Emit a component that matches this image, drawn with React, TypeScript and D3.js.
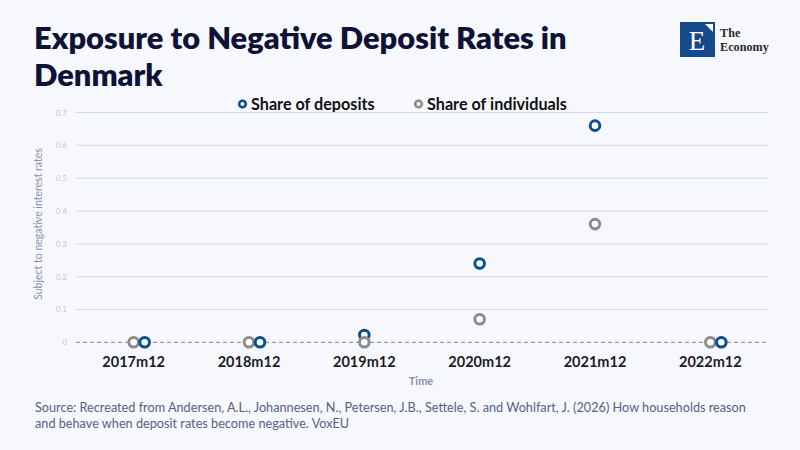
import React from "react";
import * as d3 from "d3";

const categories = ["2017m12", "2018m12", "2019m12", "2020m12", "2021m12", "2022m12"];
const shareOfDeposits = [0, 0, 0.022, 0.24, 0.66, 0];
const shareOfIndividuals = [0, 0, 0, 0.07, 0.36, 0];
const yTicks = [0, 0.1, 0.2, 0.3, 0.4, 0.5, 0.6, 0.7];
const seriesNames = ["Share of deposits", "Share of individuals"];

const W = 800;
const H = 450;
const BG = "#f7f8fd";
const BLUE = "#0c4f8e";
const GRAY = "#8c8c8c";
const FONT = "Lato, 'Noto Sans', sans-serif";

export default function App() {
  const x = d3.scaleBand<string>().domain(categories).range([76, 768]);
  const y = d3.scaleLinear().domain([0, 0.7]).range([342.3, 112.5]);
  const cx = (c: string) => (x(c) as number) + x.bandwidth() / 2;
  const DODGE = 11;

  const pts: { x: number; y: number; color: string; key: string }[] = [];
  categories.forEach((c, i) => {
    const d = shareOfDeposits[i];
    const ind = shareOfIndividuals[i];
    const dodged = d === ind;
    const dep = { x: cx(c) + (dodged ? DODGE : 0), y: y(d), color: BLUE, key: "d" + i };
    const indiv = { x: cx(c), y: y(ind), color: GRAY, key: "i" + i };
    if (dodged) pts.push(indiv, dep);
    else pts.push(dep, indiv);
  });

  return (
    <div style={{ position: "absolute", left: 0, top: 0 }}>
      <svg width={W} height={H} style={{ display: "block" }}>
        <rect width={W} height={H} fill={BG} />
        {/* Title */}
        <text x={34} y={49} fontFamily={FONT} fontWeight={800} fontSize={30.8} fill="#0e1236">
          Exposure to Negative Deposit Rates in
        </text>
        <text x={34} y={86} fontFamily={FONT} fontWeight={800} fontSize={30.8} fill="#0e1236">
          Denmark
        </text>
        {/* Logo */}
        <g>
          <rect x={680} y={22} width={35} height={35} fill="#174a8b" />
          <polygon points="705,24 713,24 713,32" fill="#ffffff" />
          <text x={697} y={50} textAnchor="middle" fontFamily="'Liberation Serif', 'DejaVu Serif', serif" fontSize={27} fill="#ffffff">
            E
          </text>
          <text x={720} y={37} fontFamily="'Liberation Serif', serif" fontWeight={700} fontSize={12.2} fill="#2a2a2a">
            The
          </text>
          <text x={720} y={51} fontFamily="'Liberation Serif', serif" fontWeight={700} fontSize={12.2} fill="#2a2a2a">
            Economy
          </text>
        </g>
        {/* Legend */}
        <g fontFamily={FONT} fontWeight={700} fontSize={16.2} fill="#111">
          <circle cx={242.5} cy={104} r={3.3} fill="#fff" stroke={BLUE} strokeWidth={2.6} />
          <text x={251} y={109.5}>{seriesNames[0]}</text>
          <circle cx={418.5} cy={104} r={3.3} fill="#fff" stroke={GRAY} strokeWidth={2.6} />
          <text x={427} y={109.5}>{seriesNames[1]}</text>
        </g>
        {/* Grid */}
        {yTicks.map((t) => (
          <g key={t}>
            {t === 0 ? (
              <line x1={76} x2={768} y1={y(t)} y2={y(t)} stroke="#7f869d" strokeWidth={1} strokeDasharray="4,3" />
            ) : (
              <line x1={76} x2={768} y1={y(t)} y2={y(t)} stroke="#d2d9e6" strokeWidth={1} />
            )}
            <text x={67} y={y(t) + 3} textAnchor="end" fontFamily={FONT} fontSize={8} fill="#c3c8d6">
              {d3.format("~g")(t)}
            </text>
          </g>
        ))}
        {/* Y axis title */}
        <text
          transform={`translate(42,224) rotate(-90)`}
          textAnchor="middle"
          fontFamily={FONT}
          fontSize={10.5}
          fill="#8b91a8"
        >
          Subject to negative interest rates
        </text>
        {/* X labels */}
        {categories.map((c) => (
          <text key={c} x={cx(c)} y={367} textAnchor="middle" fontFamily={FONT} fontWeight={700} fontSize={14.5} fill="#1c1c24">
            {c}
          </text>
        ))}
        <text x={421} y={385} textAnchor="middle" fontFamily={FONT} fontWeight={700} fontSize={11} fill="#8b91a8">
          Time
        </text>
        {/* Points */}
        {pts.map((p) => (
          <circle key={p.key} cx={p.x} cy={p.y} r={4.8} fill="#ffffff" stroke={p.color} strokeWidth={3} />
        ))}
        {/* Source */}
        <g fontFamily={FONT} fontSize={12.7} fill="#56627e">
          <text x={35} y={412}>
            Source: Recreated from Andersen, A.L., Johannesen, N., Petersen, J.B., Settele, S. and Wohlfart, J. (2026) How households reason
          </text>
          <text x={35} y={428}>and behave when deposit rates become negative. VoxEU</text>
        </g>
      </svg>
    </div>
  );
}
